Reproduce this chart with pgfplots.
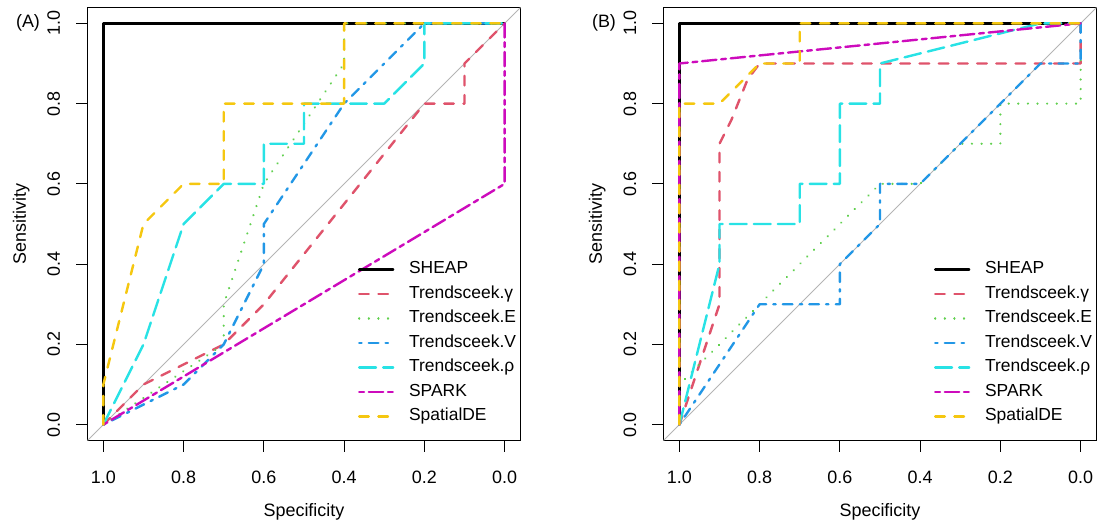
\documentclass[border=0pt]{standalone}
\usepackage{pgfplots}
\pgfplotsset{compat=1.18}
\usepackage{fontspec}
\setmainfont{Liberation Sans}
\definecolor{cR}{HTML}{DF536B}
\definecolor{cG}{HTML}{61D04F}
\definecolor{cB}{HTML}{2297E6}
\definecolor{cC}{HTML}{28E2E5}
\definecolor{cM}{HTML}{CD0BBC}
\definecolor{cY}{HTML}{F5C710}
\definecolor{cDiag}{HTML}{B4B4B4}
\pgfplotsset{
  base/.style={line width=2.4bp, line cap=round, line join=round},
  l1/.style={base, black, solid},
  l2/.style={base, cR, dash pattern=on 9.6bp off 9.6bp},
  l3/.style={base, cG, dash pattern=on 0.01bp off 9.6bp},
  l4/.style={base, cB, dash pattern=on 2.4bp off 7.2bp on 9.6bp off 7.2bp},
  l5/.style={base, cC, dash pattern=on 16.8bp off 7.2bp},
  l6/.style={base, cM, dash pattern=on 4.8bp off 4.8bp on 14.4bp off 4.8bp},
  l7/.style={base, cY, dash pattern=on 9.6bp off 9.6bp},
  rocaxis/.style={
    scale only axis, width=433.4bp, height=433.4bp,
    x dir=reverse, xmin=-0.04, xmax=1.04, ymin=-0.04, ymax=1.04,
    xtick={0,0.2,0.4,0.6,0.8,1}, xticklabels={0.0,0.2,0.4,0.6,0.8,1.0},
    ytick={0,0.2,0.4,0.6,0.8,1}, yticklabels={0.0,0.2,0.4,0.6,0.8,1.0},
    tick align=outside, major tick length=11bp,
    xtick pos=left, ytick pos=left,
    axis line style={line width=1.2bp},
    every tick/.style={black, line width=1.2bp},
    tick label style={font=\fontsize{18}{21}\selectfont, inner sep=0pt},
    xticklabel style={anchor=north},
    yticklabel style={rotate=90, anchor=base},
    xticklabel shift=19bp, yticklabel shift=16.3bp,
    xlabel={Specificity}, ylabel={Sensitivity},
    every axis x label/.style={at={(rel axis cs:0.5,0)}, anchor=base, yshift=-76bp, font=\fontsize{18}{21}\selectfont, inner sep=0pt},
    every axis y label/.style={at={([xshift=-61.3bp]rel axis cs:0,0.5)}, rotate=90, anchor=base, font=\fontsize{18}{21}\selectfont, inner sep=0pt},
    legend style={draw=none, fill=none, at={(0.6246,0.4151)}, anchor=north west,
      inner sep=0pt, outer sep=0pt, row sep=7bp, column sep=14.7bp,
      font=\fontsize{17.5}{20}\selectfont,
      nodes={inner sep=0pt, text height=13bp, text depth=4.5bp}},
    legend cell align=left,
    legend image code/.code={\draw[#1] (0bp,0bp) -- (34bp,0bp);},
  }
}
\begin{document}
\begin{tikzpicture}
\begin{axis}[rocaxis, at={(0,0)}, anchor=south west]
\addplot[cDiag, line width=1bp, forget plot] coordinates {(1.04,-0.04) (-0.04,1.04)};
\addplot[l1] coordinates {(1,0) (1,1) (0,1)};
\addplot[l2] coordinates {(1,0) (0.9,0.1) (0.7,0.2) (0.6,0.3) (0.2,0.8) (0.1,0.8) (0.1,0.9) (0,1)};
\addplot[l3] coordinates {(1,0) (0.7,0.2) (0.7,0.3) (0.6,0.6) (0.4,0.9) (0.4,1) (0,1)};
\addplot[l4] coordinates {(1,0) (0.8,0.1) (0.7,0.2) (0.6,0.4) (0.6,0.5) (0.4,0.8) (0.2,1) (0,1)};
\addplot[l5] coordinates {(1,0) (0.9,0.2) (0.8,0.5) (0.7,0.6) (0.6,0.6) (0.6,0.7) (0.5,0.7) (0.5,0.8) (0.3,0.8) (0.2,0.9) (0.2,1) (0,1)};
\addplot[l6] coordinates {(1,0) (0,0.6) (0,1)};
\addplot[l7] coordinates {(1,0) (1,0.1) (0.9,0.5) (0.8,0.6) (0.7,0.6) (0.7,0.8) (0.4,0.8) (0.4,1) (0,1)};
\legend{SHEAP, Trendsceek.γ, Trendsceek.E, Trendsceek.V, Trendsceek.ρ, SPARK, SpatialDE}
\end{axis}
\begin{axis}[rocaxis, at={(576bp,0)}, anchor=south west]
\addplot[cDiag, line width=1bp, forget plot] coordinates {(1.04,-0.04) (-0.04,1.04)};
\addplot[l1] coordinates {(1,0) (1,1) (0,1)};
\addplot[l2] coordinates {(1,0) (0.9,0.3) (0.9,0.7) (0.87,0.76) (0.83,0.86) (0.8,0.9) (0,0.9) (0,1)};
\addplot[l3] coordinates {(1,0) (1,0.1) (0.5,0.6) (0.4,0.6) (0.3,0.7) (0.2,0.7) (0.2,0.8) (0,0.8) (0,1)};
\addplot[l4] coordinates {(1,0) (0.8,0.3) (0.6,0.3) (0.6,0.4) (0.5,0.5) (0.5,0.6) (0.4,0.6) (0.1,0.9) (0,0.9) (0,1)};
\addplot[l5] coordinates {(1,0) (0.9,0.4) (0.9,0.5) (0.7,0.5) (0.7,0.6) (0.6,0.6) (0.6,0.8) (0.5,0.8) (0.5,0.9) (0.1,1) (0,1)};
\addplot[l6] coordinates {(1,0) (1,0.9) (0,1)};
\addplot[l7] coordinates {(1,0) (1,0.8) (0.9,0.8) (0.8,0.9) (0.7,0.9) (0.7,1) (0,1)};
\legend{SHEAP, Trendsceek.γ, Trendsceek.E, Trendsceek.V, Trendsceek.ρ, SPARK, SpatialDE}
\end{axis}
\node[font=\fontsize{18}{21}\selectfont, inner sep=0pt] at (-59.3bp,417.7bp) {(A)};
\node[font=\fontsize{18}{21}\selectfont, inner sep=0pt] at (516.7bp,417.7bp) {(B)};
\pgfresetboundingbox
\path[use as bounding box] (-87.3bp,-86.3bp) rectangle (1011.7bp,440.7bp);
\end{tikzpicture}
\end{document}
